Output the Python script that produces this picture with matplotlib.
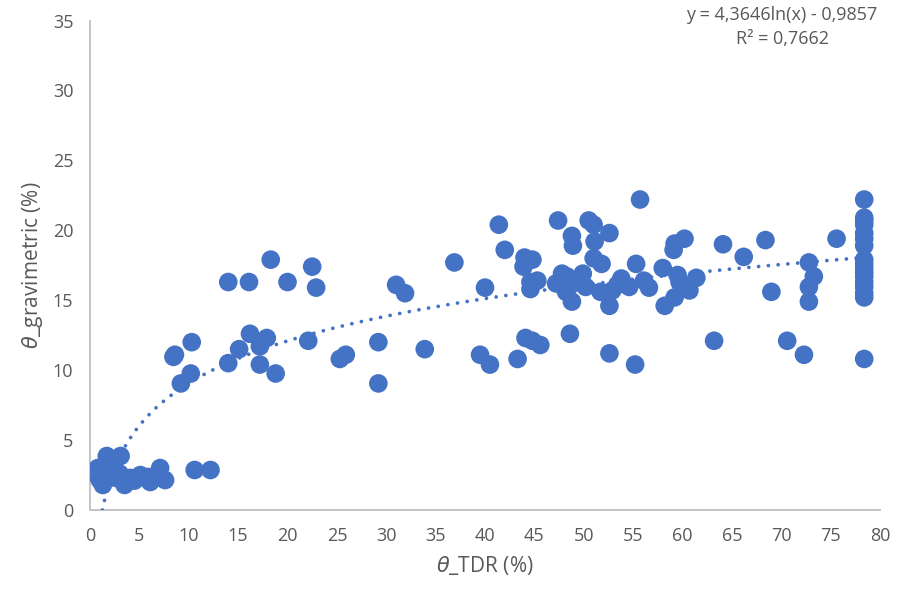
import numpy as np
import matplotlib
matplotlib.use('Agg')
import matplotlib.pyplot as plt

#-------------------------------------------------------------------------------
#DATA

#theta TDR (%) and theta gravimetric (%) pairs
tdr = [0.8, 1.7, 3.1, 1.0, 1.3, 2.3, 2.7, 3.5, 4.1, 5.1, 5.9, 6.1, 7.1, 7.6,
       10.6, 12.2, 1.5, 2.0, 0.9, 3.0, 4.5,
       14.0, 16.1, 18.3, 20.0, 22.5, 22.9, 10.3, 8.45, 8.6, 10.2, 9.2, 14.0,
       15.1, 16.2, 17.9, 17.2, 17.2, 18.8, 22.1, 25.3, 25.9, 29.2, 29.2,
       41.4, 42.0, 36.9, 31.0, 31.9, 40.0, 44.0, 44.8, 43.9, 44.6, 45.3, 44.6,
       47.4, 50.5, 51.0, 52.6, 48.8, 48.9, 51.1, 51.0, 51.8, 47.8, 49.9, 47.5,
       48.7, 50.2, 48.2, 48.8, 51.7, 52.6, 53.4, 33.9, 39.5, 40.5, 43.3, 44.1,
       44.8, 45.6, 48.6, 52.6, 47.2, 48.3, 52.9,
       55.7, 60.2, 59.2, 59.1, 64.1, 68.4, 75.6, 66.2, 55.3, 58.0, 59.5, 61.4,
       53.8, 56.1, 56.6, 54.6, 59.7, 60.7, 59.2, 58.2, 69.0, 72.8, 73.3, 72.8,
       72.8, 63.2, 70.6, 72.3, 55.2,
       78.4, 78.4, 78.4, 78.4, 78.4, 78.4, 78.4, 78.4, 78.4, 78.4, 78.4, 78.4,
       78.4, 78.4, 78.4, 78.4, 78.4]
grav = [3.0, 3.86, 3.86, 2.14, 1.79, 2.86, 2.29, 1.79, 2.29, 2.5, 2.36, 2.0,
        3.0, 2.14, 2.86, 2.86, 2.5, 2.3, 2.3, 2.6, 2.1,
        16.3, 16.3, 17.9, 16.3, 17.4, 15.9, 12.0, 10.95, 11.1, 9.76, 9.05, 10.5,
        11.5, 12.6, 12.3, 11.7, 10.4, 9.76, 12.1, 10.8, 11.1, 12.0, 9.05,
        20.4, 18.6, 17.7, 16.1, 15.5, 15.9, 18.05, 17.9, 17.4, 16.3, 16.4, 15.8,
        20.7, 20.7, 20.4, 19.8, 19.6, 18.9, 19.2, 18.0, 17.6, 16.9, 16.9, 16.2,
        16.1, 15.95, 15.6, 14.9, 15.6, 14.6, 16.1, 11.5, 11.1, 10.4, 10.8, 12.3,
        12.1, 11.8, 12.6, 11.2, 16.2, 16.7, 15.7,
        22.2, 19.4, 19.05, 18.6, 19.0, 19.3, 19.4, 18.1, 17.6, 17.3, 16.8, 16.6,
        16.55, 16.4, 15.9, 15.95, 16.3, 15.7, 15.2, 14.6, 15.6, 17.7, 16.7, 15.95,
        14.9, 12.1, 12.1, 11.1, 10.4,
        22.2, 20.9, 20.7, 20.4, 19.8, 19.4, 18.9, 17.9, 17.6, 17.3, 17.0, 16.7,
        16.3, 15.95, 15.5, 15.2, 10.8]

#logarithmic trendline coefficients, as printed on the chart
a_fit, b_fit = 4.3646, -0.9857
r2 = 0.7662

blue = '#4472C4'
grey = '#595959'

#-------------------------------------------------------------------------------
#PLOT

plt.rcParams['font.family'] = ['Open Sans', 'DejaVu Sans']

fig = plt.figure(figsize=(9.01, 5.96), dpi=100)
ax = fig.add_axes([0.0999, 0.1443, 0.8768, 0.8213])

ax.scatter(tdr, grav, s=180, color=blue, edgecolors='none', zorder=3)

#trendline, from where it crosses zero to the last point
xt = np.linspace(np.exp(-b_fit/a_fit), max(tdr), 400)
ax.plot(xt, a_fit*np.log(xt) + b_fit, linestyle=(0, (0.01, 2.6)), color=blue,
        linewidth=2.7, dash_capstyle='round', zorder=4)

ax.set_xlim(0, 80)
ax.set_ylim(0, 35)
ax.set_xticks(np.arange(0, 81, 5))
ax.set_yticks(np.arange(0, 36, 5))
ax.tick_params(length=0, labelsize=13, labelcolor=grey, pad=12)
for s in ['top', 'right']:
    ax.spines[s].set_visible(False)
for s in ['left', 'bottom']:
    ax.spines[s].set_color('#BFBFBF')
    ax.spines[s].set_linewidth(1.3)

ax.set_xlabel(r'$\theta$_TDR (%)', fontsize=15, color=grey, labelpad=7)
ax.set_ylabel(r'$\theta$_gravimetric (%)', fontsize=15, color=grey, labelpad=6)

eq = 'y = %sln(x) - %s\nR² = %s' % (str(a_fit).replace('.', ','),
                                   str(-b_fit).replace('.', ','),
                                   str(r2).replace('.', ','))
fig.text(0.868, 0.99, eq, ha='center', va='top', fontsize=13, color=grey,
         linespacing=1.4)

fig.savefig('out.png', dpi=100)
